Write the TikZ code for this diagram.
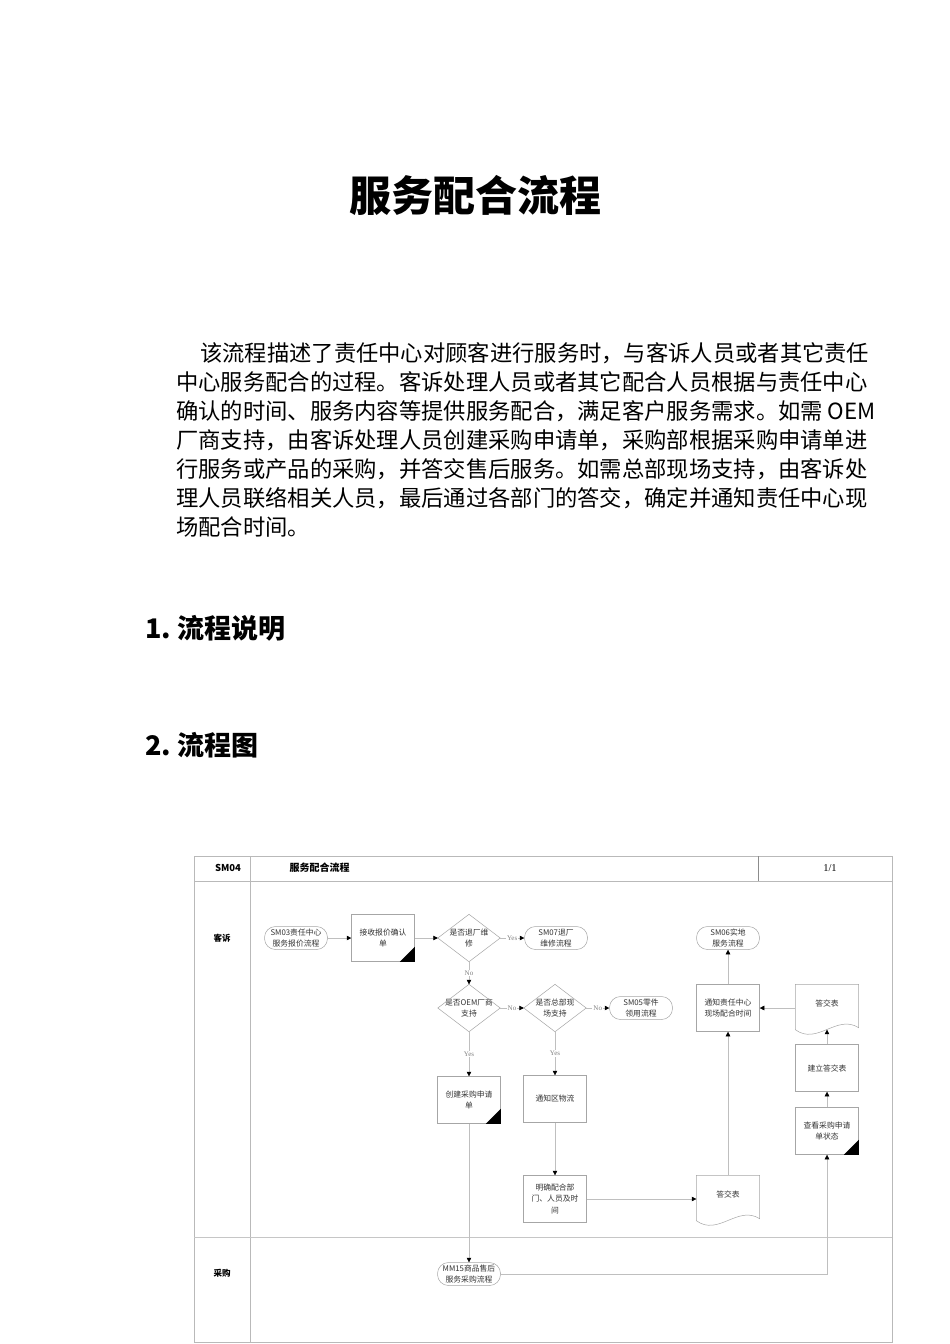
\documentclass[tikz,border=0pt]{standalone}
\usepackage{fontspec}
\setmainfont{Noto Sans CJK SC}
\newfontfamily\serifen{Liberation Serif}
\usetikzlibrary{arrows.meta}
\newcommand\nodefont{\fontsize{7.8}{11.5}\selectfont}
\begin{document}
\begin{tikzpicture}[x=1pt,y=-1pt,
  para/.style={anchor=west,inner sep=0pt,font=\fontsize{22.3}{24}\selectfont},
  heading/.style={anchor=west,inner sep=0pt,font=\fontsize{27}{28}\selectfont\bfseries},
  frameline/.style={draw=gray!55,line width=0.6pt},
  proc/.style={draw=gray!70,line width=0.5pt,rectangle,minimum width=63pt,minimum height=47pt,inner sep=1pt,align=center,font=\nodefont,text=black!80},
  term/.style={draw=gray!70,line width=0.5pt,rectangle,rounded corners=11pt,minimum width=63pt,minimum height=23pt,inner sep=1pt,align=center,font=\nodefont,text=black!80},
  dec/.style={rectangle,minimum width=62pt,minimum height=47pt,inner sep=0pt,align=center,font=\nodefont,text=black!80},
  docn/.style={rectangle,minimum width=63pt,minimum height=47pt,inner sep=0pt,align=center,font=\nodefont,text=black!80},
  shapeline/.style={draw=gray!70,line width=0.5pt},
  conn/.style={draw=gray!50,line width=0.5pt,-{Triangle[length=4.5pt,width=4.5pt,color=black]}},
  lab/.style={fill=white,inner sep=1pt,font=\serifen\fontsize{7}{7}\selectfont,text=gray}
]
\useasboundingbox (0,0) rectangle (950,1344);
\fill[white] (0,0) rectangle (950,1344);

% Title
\node[font=\fontsize{42}{42}\selectfont\bfseries] (title) at (475,195) {服务配合流程};

% Paragraph
\node[para] (p1) at (200,353) {该流程描述了责任中心对顾客进行服务时，与客诉人员或者其它责任};
\node[para] (p2) at (176,382) {中心服务配合的过程。客诉处理人员或者其它配合人员根据与责任中心};
\node[para] (p3) at (176,411) {确认的时间、服务内容等提供服务配合，满足客户服务需求。如需 OEM};
\node[para] (p4) at (176,440) {厂商支持，由客诉处理人员创建采购申请单，采购部根据采购申请单进};
\node[para] (p5) at (176,469) {行服务或产品的采购，并答交售后服务。如需总部现场支持，由客诉处};
\node[para] (p6) at (176,498) {理人员联络相关人员，最后通过各部门的答交，确定并通知责任中心现};
\node[para] (p7) at (176,527) {场配合时间。};

% Headings
\node[heading] (h1) at (145,628) {1.\hspace{6pt}流程说明};
\node[heading] (h2) at (145,745) {2.\hspace{6pt}流程图};

% Frame
\draw[frameline] (194,856) rectangle (892,1342);
\draw[frameline] (194,881) -- (892,881);
\draw[frameline] (250,856) -- (250,1342);
\draw[draw=gray!90,line width=0.6pt] (758,856) -- (758,881);
\draw[draw=gray!45,line width=1pt] (194,1237) -- (892,1237);

\node[font=\fontsize{9.5}{10}\selectfont\bfseries] (hcode) at (228,868) {SM04};
\node[font=\fontsize{10}{10}\selectfont\bfseries,anchor=west] (hname) at (286,868) {服务配合流程};
\node[font=\serifen\fontsize{10.5}{10}\selectfont] (hpage) at (830,868) {1/1};
\node[font=\fontsize{8.5}{9}\selectfont\bfseries] (lane1) at (222,938) {客诉};
\node[font=\fontsize{8.5}{9}\selectfont\bfseries] (lane2) at (222,1273) {采购};

% Nodes
\node[term] (sm03) at (296,938) {SM03责任中心\\服务报价流程};
\node[proc] (recv) at (383,938) {接收报价确认\\单};
\node[dec] (d1) at (469,938) {是否退厂维\\修};
\node[term] (sm07) at (556,938) {SM07退厂\\维修流程};
\node[dec] (d2) at (469,1008) {是否OEM厂商\\支持};
\node[dec] (d3) at (555,1008) {是否总部现\\场支持};
\node[term] (sm05) at (641,1008) {SM05零件\\领用流程};
\node[proc] (create) at (469,1100) {创建采购申请\\单};
\node[proc] (logi) at (555,1099) {通知区物流};
\node[proc] (clar) at (555,1199) {明确配合部\\门、人员及时\\间};
\node[docn] (doc1) at (728,1199) {};
\node[proc] (notify) at (728,1008) {通知责任中心\\现场配合时间};
\node[term] (sm06) at (728,938) {SM06实地\\服务流程};
\node[docn] (doc2) at (827,1008) {};
\node[proc] (build) at (827,1068) {建立答交表};
\node[proc] (check) at (827,1131) {查看采购申请\\单状态};
\node[term] (mm15) at (469,1274) {MM15商品售后\\服务采购流程};
\node[font=\nodefont,text=black!80] (doc1t) at (728,1194) {答交表};
\node[font=\nodefont,text=black!80] (doc2t) at (827,1003) {答交表};

% Diamonds
\foreach \n in {d1,d2,d3}{
  \draw[shapeline] (\n.north) -- (\n.east) -- (\n.south) -- (\n.west) -- cycle;
}
% Documents
\foreach \n in {doc1,doc2}{
  \draw[shapeline] (\n.north west) -- (\n.north east) -- ([yshift=4pt]\n.south east)
    .. controls ([xshift=-22pt,yshift=18pt]\n.south east) and ([xshift=22pt,yshift=-14pt]\n.south west) .. ([yshift=2pt]\n.south west) -- cycle;
}
% Corner triangles
\foreach \n in {recv,create,check}{
  \fill ([xshift=-15pt]\n.south east) -- (\n.south east) -- ([yshift=15pt]\n.south east) -- cycle;
}

% Connectors
\draw[conn] (sm03) -- (recv);
\draw[conn] (recv) -- (d1);
\draw[conn] (d1) -- node[lab] {Yes} (sm07);
\draw[conn] (d1) -- node[lab] {No} (d2);
\draw[conn] (d2) -- node[lab] {No} (d3);
\draw[conn] (d3) -- node[lab] {No} (sm05);
\draw[conn] (d2) -- node[lab] {Yes} (create);
\draw[conn] (d3) -- node[lab] {Yes} (logi);
\draw[conn] (logi) -- (clar);
\draw[conn] (clar) -- (doc1);
\draw[conn] (doc1) -- (notify);
\draw[conn] (notify) -- (sm06);
\draw[conn] (doc2) -- (notify);
\draw[conn] (build.north) -- ([yshift=2pt]doc2.south);
\draw[conn] (check) -- (build);
\draw[conn] (create) -- (mm15);
\draw[conn] (mm15.east) -| (check.south);
\end{tikzpicture}
\end{document}
